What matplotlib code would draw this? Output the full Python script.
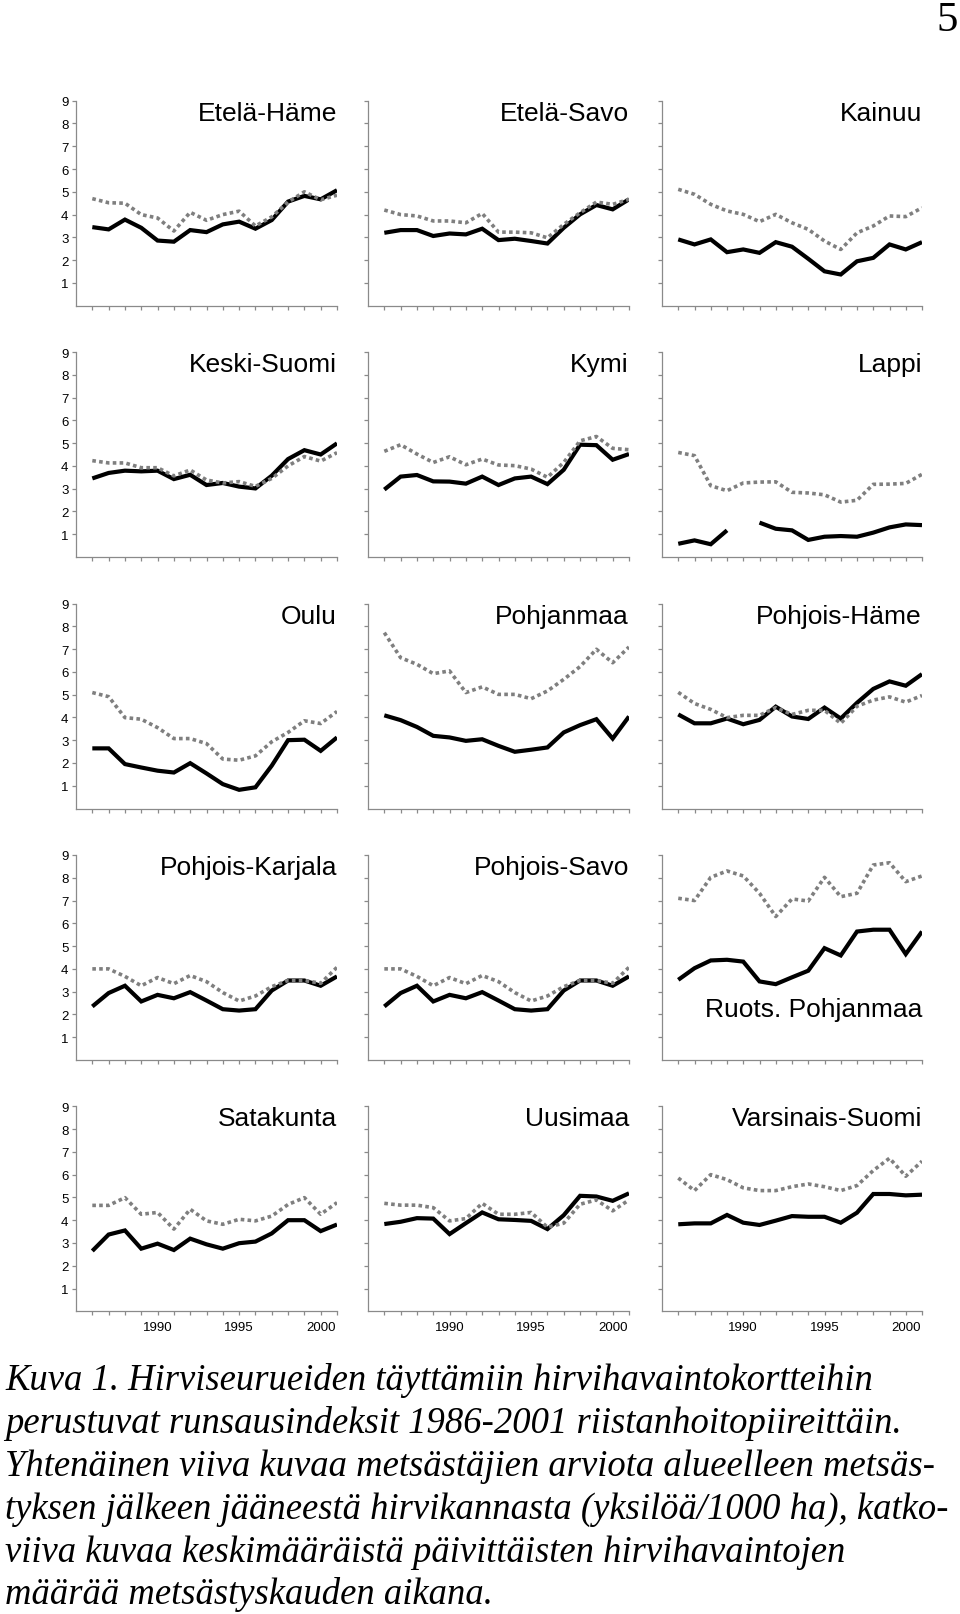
import numpy as np
import matplotlib
matplotlib.use("Agg")
import matplotlib.pyplot as plt

years = list(range(1986, 2002))

regions = ["Etelä-Häme", "Etelä-Savo", "Kainuu",
           "Keski-Suomi", "Kymi", "Lappi",
           "Oulu", "Pohjanmaa", "Pohjois-Häme",
           "Pohjois-Karjala", "Pohjois-Savo", "Ruots. Pohjanmaa",
           "Satakunta", "Uusimaa", "Varsinais-Suomi"]

# Solid line: hunters' estimate of remaining moose population (ind./1000 ha)
etela_hame_est = [3.45, 3.35, 3.78, 3.42, 2.86, 2.81, 3.32, 3.23, 3.57, 3.69, 3.38, 3.76, 4.57, 4.82, 4.67, 5.07]
etela_savo_est = [3.20, 3.32, 3.32, 3.06, 3.17, 3.13, 3.38, 2.88, 2.94, 2.84, 2.73, 3.42, 4.01, 4.42, 4.23, 4.67]
kainuu_est = [2.91, 2.69, 2.91, 2.35, 2.47, 2.32, 2.79, 2.59, 2.06, 1.51, 1.37, 1.95, 2.10, 2.69, 2.47, 2.79]
keski_suomi_est = [3.45, 3.69, 3.79, 3.76, 3.79, 3.42, 3.61, 3.16, 3.25, 3.09, 3.01, 3.57, 4.30, 4.69, 4.50, 4.99]
kymi_est = [2.96, 3.53, 3.60, 3.32, 3.31, 3.22, 3.53, 3.16, 3.45, 3.53, 3.20, 3.83, 4.93, 4.91, 4.27, 4.52]
lappi_est = [0.58, 0.73, 0.56, 1.17, np.nan, 1.51, 1.24, 1.17, 0.75, 0.89, 0.92, 0.89, 1.07, 1.30, 1.43, 1.40]
oulu_est = [2.64, 2.64, 1.95, 1.80, 1.66, 1.58, 1.99, 1.54, 1.07, 0.82, 0.93, 1.88, 3.00, 3.02, 2.53, 3.12]
pohjanmaa_est = [4.09, 3.88, 3.58, 3.19, 3.12, 2.97, 3.04, 2.75, 2.49, 2.58, 2.68, 3.34, 3.66, 3.92, 3.07, 4.04]
pohjois_hame_est = [4.13, 3.74, 3.74, 3.95, 3.70, 3.89, 4.47, 4.04, 3.93, 4.43, 3.95, 4.64, 5.25, 5.58, 5.39, 5.90]
pohjois_karjala_est = [2.35, 2.94, 3.26, 2.57, 2.86, 2.71, 2.98, 2.61, 2.23, 2.17, 2.23, 3.05, 3.49, 3.49, 3.26, 3.67]
pohjois_savo_est = [2.35, 2.94, 3.26, 2.57, 2.86, 2.71, 2.98, 2.61, 2.23, 2.17, 2.23, 3.05, 3.49, 3.49, 3.26, 3.67]
ruots_pohjanmaa_est = [3.52, 4.03, 4.37, 4.40, 4.32, 3.45, 3.33, 3.63, 3.92, 4.91, 4.59, 5.64, 5.72, 5.72, 4.65, 5.64]
satakunta_est = [2.65, 3.37, 3.55, 2.75, 2.97, 2.69, 3.19, 2.94, 2.75, 2.99, 3.06, 3.42, 4.00, 4.00, 3.52, 3.81]
uusimaa_est = [3.83, 3.93, 4.09, 4.07, 3.39, 3.87, 4.34, 4.04, 4.01, 3.97, 3.61, 4.22, 5.07, 5.04, 4.85, 5.18]
varsinais_suomi_est = [3.82, 3.86, 3.86, 4.23, 3.89, 3.79, 3.98, 4.18, 4.15, 4.15, 3.89, 4.33, 5.15, 5.15, 5.09, 5.12]

# Dotted line: mean daily moose observations during the hunting season
etela_hame_obs = [4.70, 4.52, 4.50, 4.00, 3.85, 3.28, 4.10, 3.75, 4.00, 4.15, 3.50, 3.90, 4.55, 5.00, 4.65, 4.85]
etela_savo_obs = [4.20, 4.00, 3.94, 3.72, 3.72, 3.64, 4.05, 3.23, 3.23, 3.20, 2.98, 3.57, 4.08, 4.55, 4.45, 4.67]
kainuu_obs = [5.11, 4.89, 4.45, 4.16, 4.01, 3.69, 4.01, 3.64, 3.35, 2.84, 2.47, 3.20, 3.50, 3.94, 3.91, 4.30]
keski_suomi_obs = [4.23, 4.13, 4.13, 3.92, 3.92, 3.56, 3.82, 3.38, 3.25, 3.31, 3.10, 3.45, 4.00, 4.41, 4.21, 4.58]
kymi_obs = [4.64, 4.93, 4.52, 4.15, 4.40, 4.05, 4.30, 4.04, 4.01, 3.86, 3.50, 4.15, 5.10, 5.29, 4.77, 4.71]
lappi_obs = [4.59, 4.45, 3.13, 2.91, 3.25, 3.29, 3.30, 2.84, 2.81, 2.73, 2.41, 2.49, 3.19, 3.20, 3.23, 3.63]
oulu_obs = [5.09, 4.91, 3.99, 3.92, 3.55, 3.07, 3.07, 2.85, 2.17, 2.12, 2.31, 2.93, 3.34, 3.85, 3.73, 4.26]
pohjanmaa_obs = [7.72, 6.62, 6.33, 5.92, 6.04, 5.09, 5.34, 5.01, 5.01, 4.82, 5.16, 5.67, 6.23, 6.99, 6.40, 7.09]
pohjois_hame_obs = [5.10, 4.61, 4.35, 3.99, 4.09, 4.09, 4.43, 4.13, 4.31, 4.31, 3.74, 4.49, 4.76, 4.90, 4.67, 4.96]
pohjois_karjala_obs = [4.00, 4.00, 3.67, 3.26, 3.62, 3.35, 3.71, 3.44, 2.96, 2.59, 2.81, 3.22, 3.49, 3.49, 3.37, 4.07]
pohjois_savo_obs = [4.00, 4.00, 3.67, 3.26, 3.62, 3.35, 3.71, 3.44, 2.96, 2.59, 2.81, 3.22, 3.49, 3.49, 3.37, 4.07]
ruots_pohjanmaa_obs = [7.10, 7.00, 8.02, 8.30, 8.08, 7.32, 6.30, 7.07, 6.98, 8.02, 7.17, 7.32, 8.56, 8.66, 7.83, 8.08]
satakunta_obs = [4.65, 4.65, 4.99, 4.26, 4.34, 3.61, 4.48, 3.97, 3.82, 4.04, 3.97, 4.18, 4.69, 4.99, 4.26, 4.77]
uusimaa_obs = [4.74, 4.66, 4.66, 4.55, 3.97, 4.07, 4.74, 4.26, 4.26, 4.34, 3.69, 3.87, 4.70, 4.89, 4.41, 4.89]
varsinais_suomi_obs = [5.85, 5.30, 6.00, 5.78, 5.42, 5.30, 5.30, 5.47, 5.59, 5.47, 5.30, 5.52, 6.18, 6.72, 5.93, 6.59]

estimates = [etela_hame_est, etela_savo_est, kainuu_est, keski_suomi_est, kymi_est,
             lappi_est, oulu_est, pohjanmaa_est, pohjois_hame_est, pohjois_karjala_est,
             pohjois_savo_est, ruots_pohjanmaa_est, satakunta_est, uusimaa_est,
             varsinais_suomi_est]
observations = [etela_hame_obs, etela_savo_obs, kainuu_obs, keski_suomi_obs, kymi_obs,
                lappi_obs, oulu_obs, pohjanmaa_obs, pohjois_hame_obs, pohjois_karjala_obs,
                pohjois_savo_obs, ruots_pohjanmaa_obs, satakunta_obs, uusimaa_obs,
                varsinais_suomi_obs]

y_ticks = [1, 2, 3, 4, 5, 6, 7, 8, 9]
x_label_years = [1990, 1995, 2000]

caption_lines = [
    "Kuva 1. Hirviseurueiden täyttämiin hirvihavaintokortteihin",
    "perustuvat runsausindeksit 1986-2001 riistanhoitopiireittäin.",
    "Yhtenäinen viiva kuvaa metsästäjien arviota alueelleen metsäs-",
    "tyksen jälkeen jääneestä hirvikannasta (yksilöä/1000 ha), katko-",
    "viiva kuvaa keskimääräistä päivittäisten hirvihavaintojen",
    "määrää metsästyskauden aikana.",
]
page_number = "5"

# ---------------------------------------------------------------- layout
W, H = 960, 1615
fig = plt.figure(figsize=(W / 100, H / 100), dpi=100)
fig.patch.set_facecolor("white")

sans = ["Liberation Sans", "DejaVu Sans"]
serif = ["Liberation Serif", "DejaVu Serif"]

col_left = [76, 368, 662]
col_width = [261, 261, 260]
row_top = [101.7, 353.0, 604.5, 856.0, 1107.3]
row_h = 205.0

spine_col = "#8a8a8a"

for i, name in enumerate(regions):
    r, c = divmod(i, 3)
    left = col_left[c]
    top = row_top[r]
    ax = fig.add_axes([left / W, 1 - (top + row_h) / H, col_width[c] / W, row_h / H])
    ax.set_xlim(1985, 2001)
    ax.set_ylim(0, 9)
    for s in ("top", "right"):
        ax.spines[s].set_visible(False)
    for s in ("left", "bottom"):
        ax.spines[s].set_color(spine_col)
        ax.spines[s].set_linewidth(0.9)
    ax.set_xticks(years)
    ax.set_yticks(y_ticks)
    ax.tick_params(direction="out", length=3.0, width=0.9, color=spine_col,
                   labelcolor="black", labelsize=9.5, pad=2.5)
    ax.tick_params(axis="x", pad=4)
    if c == 0:
        ax.set_yticklabels([str(v) for v in y_ticks], family=sans)
    else:
        ax.set_yticklabels([])
    if r == 4:
        ax.set_xticklabels([str(y) if y in x_label_years else "" for y in years],
                           family=sans)
    else:
        ax.set_xticklabels([])

    ax.plot(years, estimates[i], color="black", lw=3.0, solid_joinstyle="miter",
            solid_capstyle="butt", zorder=3)
    ax.plot(years, observations[i], color="#7f7f7f", lw=2.6,
            linestyle=(0, (1.0, 0.9)), dash_capstyle="butt", zorder=4)

    ty = 0.216 if name == "Ruots. Pohjanmaa" else 0.907
    ax.text(1.0, ty, name, transform=ax.transAxes, ha="right", va="baseline",
            fontsize=19, family=sans, color="black")

# page number
fig.text(958 / W, 1 - 31 / H, page_number, ha="right", va="baseline",
         fontsize=31, family=serif, color="black")

# caption
baselines = [1390, 1433, 1476, 1519, 1562, 1604]
fs = 24
texts = []
for line, b in zip(caption_lines, baselines):
    t = fig.text(5 / W, 1 - b / H, line, ha="left", va="baseline",
                 fontsize=fs, family=serif, style="italic", color="black")
    texts.append(t)

# fit caption font size so that the widest line stays inside the page
fig.canvas.draw()
renderer = fig.canvas.get_renderer()
wpx = max(t.get_window_extent(renderer).width for t in texts)
target = 948.0
newfs = fs * target / wpx
for t in texts:
    t.set_fontsize(newfs)

fig.savefig("out.png", dpi=100, facecolor="white")
